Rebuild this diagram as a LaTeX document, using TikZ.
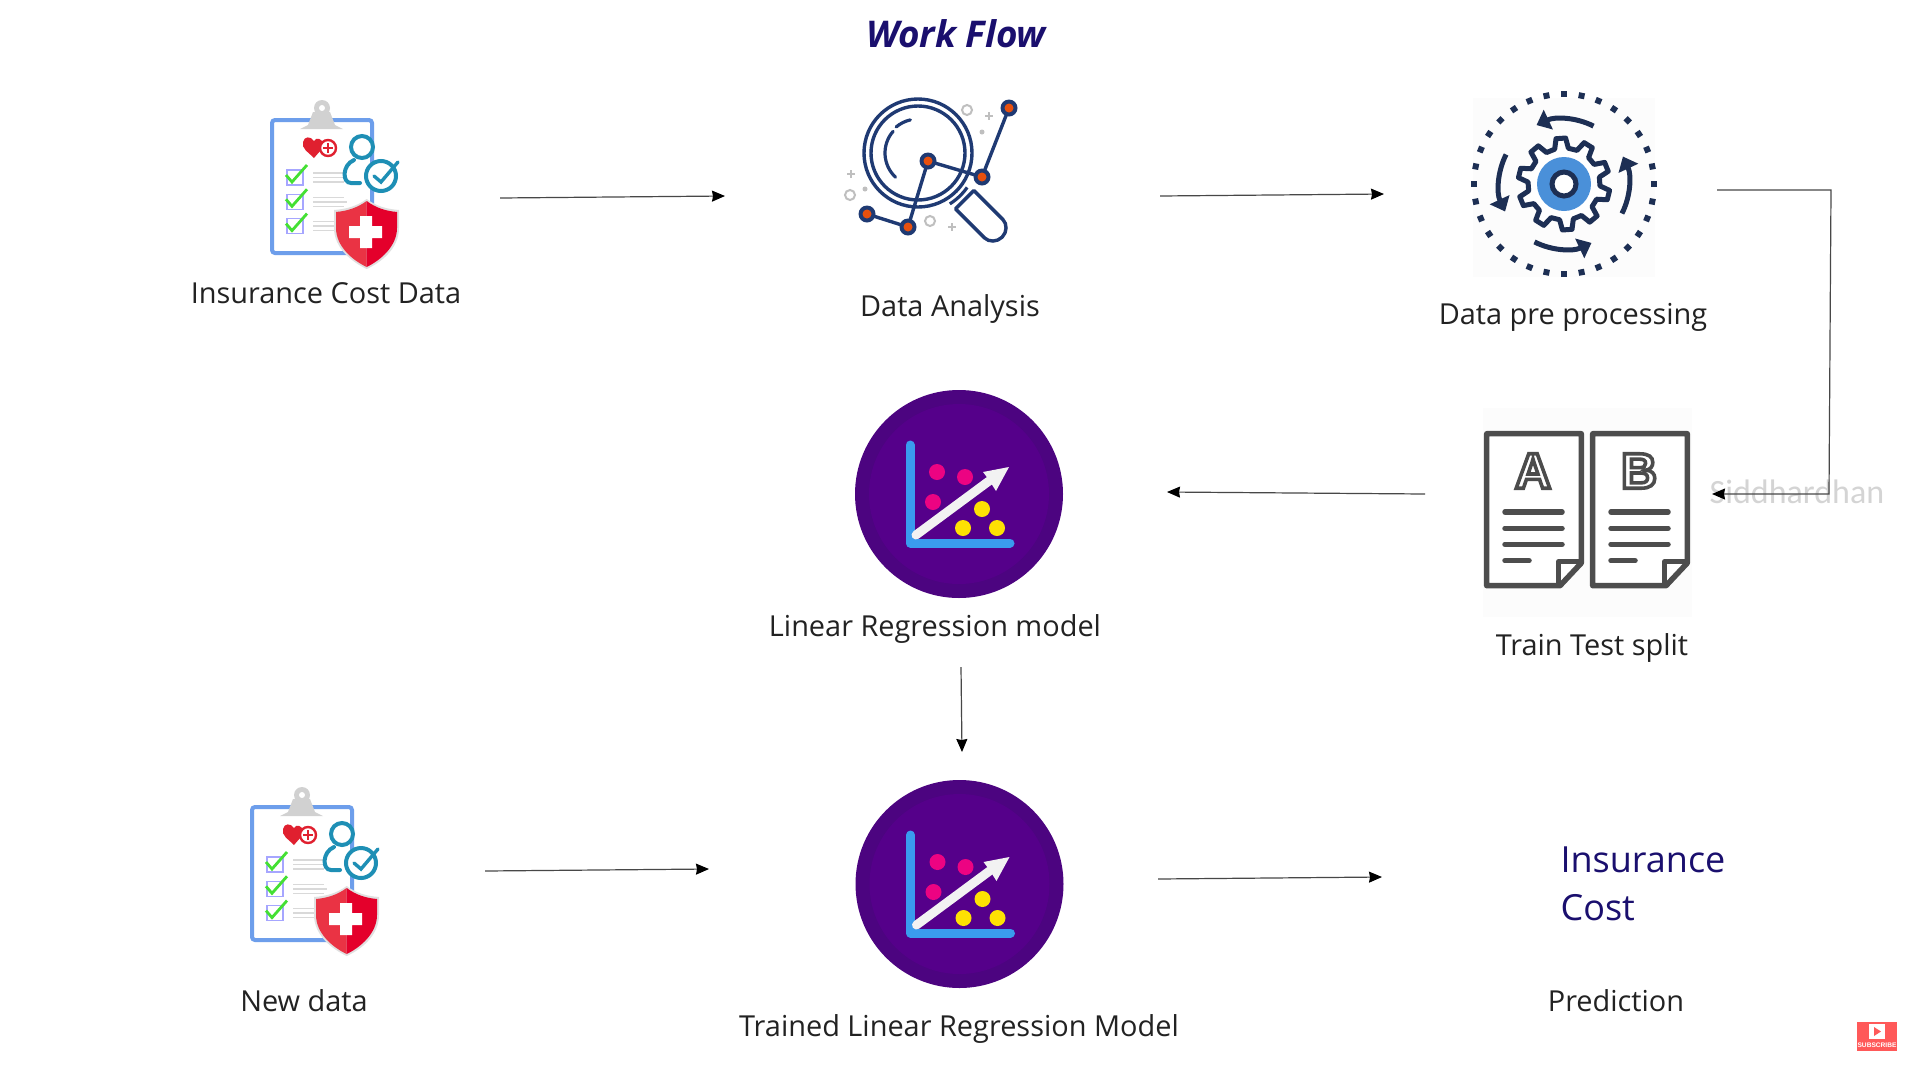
\documentclass[tikz,border=0pt]{standalone}
\usepackage{fontspec}
\setmainfont{Open Sans}
\newfontfamily\markfont{Carlito}
\newfontfamily\iconfont{Liberation Sans}
\usetikzlibrary{arrows.meta}

\definecolor{titleblue}{HTML}{1A0F6E}
\definecolor{labelgray}{HTML}{222222}
\definecolor{clipblue}{HTML}{6D9EEB}
\definecolor{tealline}{HTML}{1E8FB5}
\definecolor{heartred}{HTML}{E0202F}
\definecolor{checkgreen}{HTML}{44E033}
\definecolor{shieldred}{HTML}{EA3344}
\definecolor{shielddark}{HTML}{E4002B}
\definecolor{lensnavy}{HTML}{1F3A73}
\definecolor{dotorange}{HTML}{E8500E}
\definecolor{gearnavy}{HTML}{1D2F54}
\definecolor{gearblue}{HTML}{4A90D9}
\definecolor{docgray}{HTML}{4D4D4D}
\definecolor{purpleout}{HTML}{4C0480}
\definecolor{purplein}{HTML}{55008A}
\definecolor{axisblue}{HTML}{3A9BEE}

\tikzset{
  labeltext/.style={anchor=base,text=labelgray,font=\fontsize{28.9}{34}\selectfont},
  resulttext/.style={anchor=base west,text=titleblue,font=\fontsize{36}{42}\selectfont},
  flowline/.style={draw=black!72,line width=1.2pt,->,>={Stealth[length=13pt,width=11pt,inset=1pt,color=black,fill=black]}},
  insuranceicon/.pic={
    \draw[clipblue,line width=4pt,rounded corners=3pt,fill=white] (0,0) rectangle (100,133);
    \fill[black!18] (41,-8) -- (58,-8) -- (63,5) -- (71,9) -- (28,9) -- (36,5) -- cycle;
    \fill[black!18] (50,-12) circle (8);
    \fill[white] (50,-12) circle (3);
    \fill[heartred] (42,38) .. controls (36,32) and (29,28) .. (31,22) .. controls (32,16) and (39,16) .. (42,21)
      .. controls (44,17) and (51,18) .. (51,25) .. controls (51,29) and (46,33) .. (42,38) -- cycle;
    \draw[heartred,line width=2.4pt,fill=white] (56,28) circle (8);
    \draw[heartred,line width=2.6pt] (51,28) -- (61,28) (56,23) -- (56,33);
    \foreach \off in {0,24.3,48.6}{
      \draw[blue!35!white,line width=1.3pt] (15,50+\off) rectangle (31,65+\off);
      \draw[checkgreen,line width=2.8pt] (14,55+\off) -- (20,62+\off) -- (35,45+\off);
      \draw[black!15,line width=1.4pt] (41,53+\off) -- (72,53+\off) (41,57.5+\off) -- (75,57.5+\off) (41,62+\off) -- (72,62+\off);
    }
    \draw[tealline,line width=4pt,fill=white] (90,27) circle (11);
    \draw[tealline,line width=4pt,line cap=round] (88,63) -- (79,63) .. controls (70,63) and (70,45) .. (82,40);
    \draw[tealline,line width=4pt,fill=white] (109,56) circle (15);
    \draw[tealline,line width=3.4pt,line cap=round] (102,56) -- (109,62) -- (126,42);
    \fill[black!12] (94.7,79) .. controls (85,86) and (75,89) .. (62,90) -- (62,108) .. controls (62,128) and (80,142) .. (94.7,149)
      .. controls (110,142) and (127,128) .. (127,108) -- (127,90) .. controls (114,89) and (104,86) .. (94.7,79) -- cycle;
    \fill[shieldred] (94.7,81) .. controls (85,88) and (75,91) .. (64,92) -- (64,108) .. controls (64,126) and (80,140) .. (94.7,147) -- cycle;
    \fill[shielddark] (94.7,81) .. controls (104,88) and (114,91) .. (125,92) -- (125,108) .. controls (125,126) and (109,140) .. (94.7,147) -- cycle;
    \fill[white] (77,106) rectangle (110,118) (88,96) rectangle (100,128);
  },
  lensicon/.pic={
    \draw[lensnavy,line width=3.4pt] (0,0) circle (54);
    \draw[lensnavy,line width=3.4pt] (0,0) circle (47);
    \draw[lensnavy,line width=3.2pt,line cap=round] (133:33) arc (133:221:33);
    \draw[lensnavy,line width=3.2pt,line cap=round] (230:34) arc (230:257:34);
    \draw[lensnavy,line width=3.2pt] (35:60) arc (35:58:60);
    \begin{scope}[rotate=-45]
      \draw[lensnavy,line width=3.4pt,fill=white,rounded corners=1pt] (66,-13) -- (106,-13) arc (-90:90:13) -- (66,13) -- cycle;
    \end{scope}
    \draw[lensnavy,line width=3.4pt] (-51,61) -- (-10,74) -- (10,8) -- (64,24) -- (91,-45);
    \foreach \px/\py in {-51/61,-10/74,10/8,64/24,91/-45}{
      \fill[lensnavy] (\px,\py) circle (8.5);
      \fill[dotorange] (\px,\py) circle (4.5);
    }
    \foreach \px/\py in {49/-43,-68/42,12/68}{
      \draw[black!25,line width=2pt] (\px,\py) circle (5);
    }
    \foreach \px/\py in {71/-37,-67/21,34/74}{
      \draw[black!25,line width=1.8pt] (\px-4,\py) -- (\px+4,\py) (\px,\py-4) -- (\px,\py+4);
    }
    \foreach \px/\py in {64/-21,-53/36}{
      \fill[black!25] (\px,\py) circle (2.5);
    }
  },
  gearicon/.pic={
    \fill[black!1] (-91,-86) rectangle (91,93);
    \foreach \ang in {0,11.25,...,349}{
      \fill[gearnavy,rotate=\ang] (87,-3) rectangle (93,3);
    }
    \foreach \ang in {0,90,180,270}{
      \draw[gearnavy,line width=5pt,-{Triangle[length=13pt,width=21pt]}] (\ang+27:65) arc (\ang+27:\ang-25:65);
    }
    \draw[gearnavy,line width=5pt,fill=white,line join=round] (14-11:36)
      \foreach \t in {14,50,...,338}{ -- (\t-11:36) -- (\t-6:46) -- (\t+6:46) -- (\t+11:36) } -- cycle;
    \fill[gearblue] (0,0) circle (27);
    \draw[gearnavy,line width=5pt,fill=white] (0,0) circle (12);
  },
  docicon/.pic={
    \draw[docgray,line width=5.5pt,line join=round,fill=white] (2.7,2.7) -- (97.3,2.7) -- (97.3,132) -- (76,154.7) -- (2.7,154.7) -- cycle;
    \draw[docgray,line width=5pt,line join=round] (74.7,154.7) -- (74.7,130.7) -- (97.3,130.7);
    \foreach \ly in {81,97.3,113.3}{
      \draw[docgray,line width=5.5pt,line cap=round] (21,\ly) -- (78,\ly);
    }
    \draw[docgray,line width=5.5pt,line cap=round] (21,129.7) -- (45,129.7);
    \node (letter#1) at (49,40) {\iconfont\bfseries\fontsize{50}{60}\selectfont\special{pdf:code 1 1 1 rg 0.3 0.3 0.3 RG 2 Tr 3.6 w}#1\special{pdf:code 0 Tr 0 g 0 G}};
  },
  regressionicon/.pic={
    \fill[purpleout] (0,0) circle (104);
    \fill[purplein] (0,0) circle (90);
    \draw[axisblue,line width=9pt,line cap=round,line join=round] (-49,-49) -- (-49,49) -- (51,49);
    \draw[white!95!black,line width=9pt,line cap=round] (-43,41) -- (30,-13);
    \fill[white!95!black] (50,-27) -- (24,-22) -- (30,-14) -- (37,-3) -- cycle;
    \foreach \px/\py in {-22/-22,6/-17,-26/8}{
      \fill[magenta!90!red] (\px,\py) circle (8);
    }
    \foreach \px/\py in {23/15,4/34,38/34}{
      \fill[yellow!92!red] (\px,\py) circle (8);
    }
  }
}

\begin{document}
\begin{tikzpicture}[x=1pt,y=-1pt]
  \useasboundingbox (0,0) rectangle (1920,1080);
  \fill[white] (0,0) rectangle (1920,1080);

  \node (title) at (956,47) [anchor=base,text=titleblue,font=\fontsize{36.8}{44}\selectfont\bfseries\itshape] {Work Flow};

  \pic (dataIcon) at (272,120) {insuranceicon};
  \pic (lens) at (918,153) {lensicon};
  \pic (gear) at (1564,184) {gearicon};
  \fill[black!1] (1483,408) rectangle (1692,617);
  \pic (docA) at (1484,431) {docicon=A};
  \pic (docB) at (1590,431) {docicon=B};
  \pic (model) at (959,494) {regressionicon};
  \pic (trained) at (959.5,884) {regressionicon};
  \pic (newIcon) at (252,807) {insuranceicon};

  \node[labeltext] (data)     at (326,303)  {Insurance Cost Data};
  \node[labeltext] (analysis) at (950,316)  {Data Analysis};
  \node[labeltext] (prep)     at (1573,324) {Data pre processing};
  \node[labeltext] (linear)   at (935,636)  {Linear Regression model};
  \node[labeltext] (split)    at (1592,655) {Train Test split};
  \node[labeltext] (newdata)  at (304,1011) {New data};
  \node[labeltext] (trainedlabel) at (959,1036) {Trained Linear Regression Model};
  \node[labeltext] (pred)     at (1616,1011) {Prediction};
  \node[resulttext] (costA)   at (1557,872) {Insurance};
  \node[resulttext] (costB)   at (1557,920) {Cost};
  \node (mark) at (1797,503) [anchor=base,text=black!17,font=\markfont\fontsize{34}{40}\selectfont] {Siddhardhan};

  \coordinate (dataOut) at (500,198);
  \coordinate (analysisIn) at (725,196);
  \coordinate (analysisOut) at (1160,196);
  \coordinate (prepIn) at (1384,194);
  \coordinate (prepOut) at (1717,190);
  \coordinate (prepCorner) at (1831,190);
  \coordinate (splitCorner) at (1829,494);
  \coordinate (splitIn) at (1712,494);
  \coordinate (splitOut) at (1425,494);
  \coordinate (modelIn) at (1167,492);
  \coordinate (modelOut) at (961,667);
  \coordinate (trainedIn) at (962,752);
  \coordinate (newOut) at (485,871);
  \coordinate (trainedLeft) at (709,869);
  \coordinate (trainedOut) at (1158,879);
  \coordinate (predIn) at (1382,877);

  \draw[flowline] (dataOut) -- (analysisIn);
  \draw[flowline] (analysisOut) -- (prepIn);
  \draw[flowline] (prepOut) -- (prepCorner) -- (splitCorner) -- (splitIn);
  \draw[flowline] (splitOut) -- (modelIn);
  \draw[flowline] (modelOut) -- (trainedIn);
  \draw[flowline] (newOut) -- (trainedLeft);
  \draw[flowline] (trainedOut) -- (predIn);

  % subscribe badge
  \fill[red!65!white] (1857,1022) rectangle (1897,1051);
  \fill[white] (1869,1024) rectangle (1885,1039);
  \fill[red!65!white] (1874,1027) -- (1881,1031.5) -- (1874,1036) -- cycle;
  \node (subscribe) at (1877,1045) [inner sep=0pt,text=white,font=\iconfont\bfseries\fontsize{6.6}{7}\selectfont] {SUBSCRIBE};
\end{tikzpicture}
\end{document}
